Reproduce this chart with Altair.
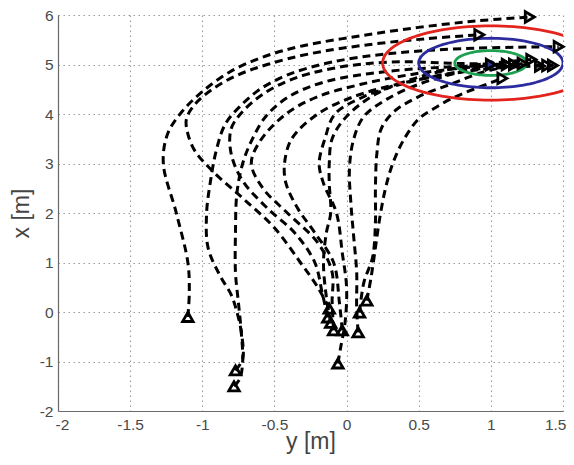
import math
import altair as alt
import pandas as pd

# ---- data: (horizontal "y [m]", vertical "x [m]") control points per trajectory ----
traj_1 = [(-1.10, -0.10), (-1.09, 0.40), (-1.10, 1.00), (-1.18, 2.00), (-1.27, 3.00), (-1.24, 3.60),
          (-1.14, 4.05), (-1.00, 4.45), (-0.81, 4.85), (-0.58, 5.15), (-0.30, 5.38), (0.10, 5.58),
          (0.50, 5.75), (0.90, 5.88), (1.27, 5.96)]
traj_2 = [(-0.77, -1.18), (-0.72, -0.95), (-0.73, -0.40), (-0.76, 0.00), (-0.80, 0.35), (-0.88, 0.75),
          (-0.96, 1.30), (-0.97, 2.00), (-0.94, 2.70), (-0.90, 3.30), (-0.84, 3.80), (-0.74, 4.15),
          (-0.60, 4.50), (-0.40, 4.80), (-0.10, 5.05), (0.30, 5.22), (0.80, 5.32), (1.47, 5.36)]
traj_3 = [(-0.78, -1.50), (-0.74, -1.35), (-0.72, -1.00), (-0.73, -0.40), (-0.75, 0.20), (-0.77, 0.80),
          (-0.77, 1.60), (-0.76, 2.40), (-0.72, 3.00), (-0.66, 3.45), (-0.56, 3.95), (-0.40, 4.35),
          (-0.15, 4.65), (0.25, 4.85), (0.70, 4.95), (1.10, 4.98), (1.43, 4.98)]
traj_4 = [(-0.12, 0.07), (-0.20, 0.50), (-0.32, 1.00), (-0.50, 1.70), (-0.72, 2.30), (-0.93, 2.85),
          (-1.05, 3.25), (-1.10, 3.60), (-1.11, 3.90), (-1.05, 4.20), (-0.93, 4.50), (-0.76, 4.78),
          (-0.55, 5.00), (-0.25, 5.22), (0.15, 5.40), (0.55, 5.52), (0.92, 5.60)]
traj_5 = [(-0.13, -0.11), (-0.17, 0.40), (-0.22, 1.00), (-0.36, 1.60), (-0.55, 2.10), (-0.72, 2.65),
          (-0.80, 3.20), (-0.80, 3.70), (-0.72, 4.05), (-0.58, 4.40), (-0.38, 4.70), (-0.10, 4.92),
          (0.30, 5.05), (0.80, 5.02), (1.39, 4.98)]
traj_6 = [(-0.09, -0.37), (-0.10, 0.20), (-0.10, 0.80), (-0.20, 1.40), (-0.41, 2.00), (-0.58, 2.50),
          (-0.66, 3.00), (-0.60, 3.45), (-0.42, 4.00), (-0.20, 4.35), (0.10, 4.60), (0.45, 4.80),
          (0.80, 4.93), (1.11, 5.00)]
traj_7 = [(-0.03, -0.37), (-0.05, 0.20), (-0.09, 1.00), (-0.22, 1.60), (-0.34, 2.10), (-0.42, 2.60),
          (-0.43, 3.00), (-0.38, 3.50), (-0.20, 4.00), (0.05, 4.35), (0.35, 4.60), (0.70, 4.80),
          (1.00, 4.92), (1.34, 4.97)]
traj_8 = [(-0.06, -1.04), (-0.04, -0.70), (-0.01, -0.20), (0.00, 0.50), (-0.03, 1.20), (-0.07, 2.00),
          (-0.16, 2.60), (-0.19, 3.00), (-0.15, 3.50), (-0.08, 4.00), (0.12, 4.35), (0.40, 4.62),
          (0.75, 4.84), (1.16, 5.00)]
traj_9 = [(0.08, -0.41), (0.07, 0.10), (0.07, 0.80), (0.05, 1.50), (0.03, 2.20), (0.02, 2.90),
          (0.05, 3.50), (0.12, 3.95), (0.28, 4.30), (0.50, 4.60), (0.75, 4.82), (1.00, 5.00)]
traj_10 = [(0.09, -0.01), (0.12, 0.60), (0.18, 1.10), (0.20, 1.80), (0.20, 2.50), (0.21, 3.20),
           (0.24, 3.70), (0.33, 4.05), (0.50, 4.35), (0.72, 4.60), (0.95, 4.85), (1.22, 5.02)]
traj_11 = [(0.14, 0.23), (0.17, 0.70), (0.20, 1.30), (0.23, 1.90), (0.27, 2.50), (0.32, 3.00),
           (0.40, 3.50), (0.50, 3.90), (0.60, 4.10), (0.72, 4.30), (0.88, 4.50), (1.08, 4.72)]
traj_12 = [(-0.11, -0.22), (-0.14, 0.30), (-0.16, 1.00), (-0.14, 1.60), (-0.11, 2.00), (-0.12, 2.60),
           (-0.12, 3.00), (-0.10, 3.50), (0.00, 3.95), (0.20, 4.40), (0.45, 4.70), (0.80, 4.95),
           (1.28, 5.10)]
trajectories = [traj_1, traj_2, traj_3, traj_4, traj_5, traj_6, traj_7, traj_8, traj_9, traj_10,
                traj_11, traj_12]

# target regions: circles around the goal
goal_center = (1.0, 5.03)
ring_radii = [0.25, 0.5, 0.75]
ring_colors = ["#1fa050", "#2c2c9e", "#e3241e"]

x_ticks = [-2, -1.5, -1, -0.5, 0, 0.5, 1, 1.5]
y_ticks = [-2, -1, 0, 1, 2, 3, 4, 5, 6]

# ---- tables ----
rows = []
for k, tr in enumerate(trajectories):
    for i, (h, v) in enumerate(tr):
        rows.append({"traj": k, "i": i, "h": h, "v": v})
lines_df = pd.DataFrame(rows)
starts_df = pd.DataFrame([{"h": tr[0][0], "v": tr[0][1]} for tr in trajectories])
ends_df = pd.DataFrame([{"h": tr[-1][0], "v": tr[-1][1]} for tr in trajectories])

ring_rows = []
for r, col in zip(ring_radii, ring_colors):
    for j in range(121):
        t = 2 * math.pi * j / 120
        ring_rows.append({"ring": col, "i": j,
                          "h": goal_center[0] + r * math.cos(t),
                          "v": goal_center[1] + r * math.sin(t)})
rings_df = pd.DataFrame(ring_rows)
center_df = pd.DataFrame([{"h": goal_center[0], "v": goal_center[1] - 0.03}])

FONT = "Liberation Sans"
xscale = alt.Scale(domain=[-2, 1.5], nice=False, zero=False)
yscale = alt.Scale(domain=[-2, 6], nice=False, zero=False)

x_axis = alt.Axis(values=x_ticks, title="y [m]", grid=True, ticks=False,
                  labelExpr="datum.value + ''", labelFont=FONT, labelFontSize=15.5,
                  labelColor="#4a4a4a", labelPadding=6, labelFlush=True, labelFlushOffset=3,
                  titleFont=FONT, titleFontSize=23, titleFontWeight="normal",
                  titleColor="#444444", titleY=30, titleBaseline="middle")
y_axis = alt.Axis(values=y_ticks, title="x [m]", grid=True, ticks=False,
                  labelExpr="datum.value + ''", labelFont=FONT, labelFontSize=15.5,
                  labelColor="#4a4a4a", labelPadding=5, labelFlush=False,
                  titleFont=FONT, titleFontSize=23, titleFontWeight="normal",
                  titleColor="#444444", titleX=-37, titleY=198, titleAngle=-90,
                  titleAlign="center", titleBaseline="middle")

lines = alt.Chart(lines_df).mark_line(
    color="black", strokeWidth=3, strokeDash=[8, 5], interpolate="catmull-rom"
).encode(
    x=alt.X("h:Q", scale=xscale, axis=x_axis),
    y=alt.Y("v:Q", scale=yscale, axis=y_axis),
    detail="traj:N",
    order="i:Q",
)

rings = alt.Chart(rings_df).mark_line(strokeWidth=2.8, clip=True).encode(
    x=alt.X("h:Q", scale=xscale),
    y=alt.Y("v:Q", scale=yscale),
    color=alt.Color("ring:N", scale=None, legend=None),
    detail="ring:N",
    order="i:Q",
)

center = alt.Chart(center_df).mark_point(
    shape="circle", filled=True, color="#2b3aa0", size=75, opacity=1
).encode(x=alt.X("h:Q", scale=xscale), y=alt.Y("v:Q", scale=yscale))

starts = alt.Chart(starts_df).mark_point(
    shape="triangle-up", filled=False, color="black", strokeWidth=2.8, size=110, opacity=1
).encode(x=alt.X("h:Q", scale=xscale), y=alt.Y("v:Q", scale=yscale))

ends = alt.Chart(ends_df).mark_point(
    shape="triangle-right", filled=False, color="black", strokeWidth=2.8, size=110, opacity=1
).encode(x=alt.X("h:Q", scale=xscale), y=alt.Y("v:Q", scale=yscale))

chart = alt.layer(lines, rings, center, starts, ends).properties(
    width=505, height=396,
    autosize=alt.AutoSizeParams(type="none"),
    padding={"left": 50, "top": 7, "right": 3, "bottom": 46},
    background="white",
).configure_axis(
    domainColor="#6a6a6a", domainWidth=1.2,
    gridColor="#9a9a9a", gridDash=[1.5, 3.5], gridWidth=1.1,
).configure_view(strokeWidth=0)

chart.save("out.html", embed_options={"renderer": "svg", "actions": False})
